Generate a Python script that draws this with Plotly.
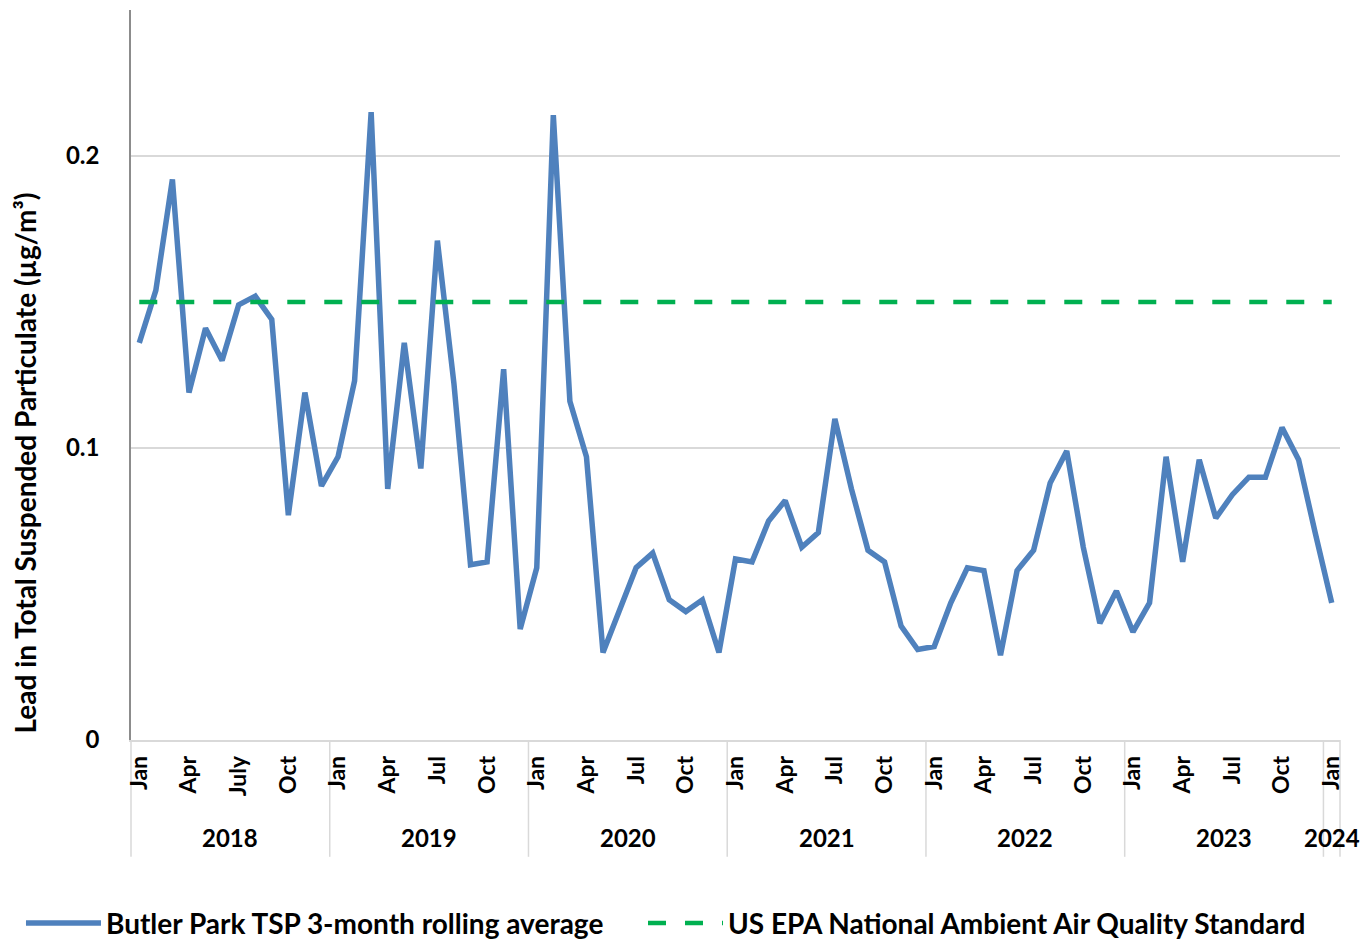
import plotly.graph_objects as go

# ---- data ----
years = [2018, 2019, 2020, 2021, 2022, 2023, 2024]
month_names = ["Jan", "Feb", "Mar", "Apr", "May", "Jun", "Jul", "Aug", "Sep", "Oct", "Nov", "Dec"]

tsp_values = [
    0.136, 0.154, 0.192, 0.119, 0.141, 0.130, 0.149, 0.152, 0.144, 0.077, 0.119, 0.087,  # 2018
    0.097, 0.123, 0.215, 0.086, 0.136, 0.093, 0.171, 0.122, 0.060, 0.061, 0.127, 0.038,  # 2019
    0.059, 0.214, 0.116, 0.097, 0.030, 0.044, 0.059, 0.064, 0.048, 0.044, 0.048, 0.030,  # 2020
    0.062, 0.061, 0.075, 0.082, 0.066, 0.071, 0.110, 0.086, 0.065, 0.061, 0.039, 0.031,  # 2021
    0.032, 0.047, 0.059, 0.058, 0.029, 0.058, 0.065, 0.088, 0.099, 0.066, 0.040, 0.051,  # 2022
    0.037, 0.047, 0.097, 0.061, 0.096, 0.076, 0.084, 0.090, 0.090, 0.107, 0.096, 0.071,  # 2023
    0.047,                                                                               # 2024
]
naaqs_value = 0.15

tick_labels = ["Jan", "Apr", "July", "Oct",
               "Jan", "Apr", "Jul", "Oct",
               "Jan", "Apr", "Jul", "Oct",
               "Jan", "Apr", "Jul", "Oct",
               "Jan", "Apr", "Jul", "Oct",
               "Jan", "Apr", "Jul", "Oct",
               "Jan"]

series_names = ["Butler Park TSP 3-month rolling average",
                "US EPA National Ambient Air Quality Standard"]
y_title = "Lead in Total Suspended Particulate (µg/m³)"

# ---- derived categories ----
categories = []
cat_year = []
for y in years:
    for m in month_names:
        if len(categories) < len(tsp_values):
            categories.append(f"{m} {y}")
            cat_year.append(y)

tick_vals = [c for c in categories if c.split()[0] in ("Jan", "Apr", "Jul", "Oct")]

FONT = "Lato"
BLUE = "#4F81BD"
GREEN = "#00B050"
GRID = "#D9D9D9"

fig = go.Figure()
fig.add_trace(go.Scatter(
    x=categories, y=tsp_values, mode="lines", name=series_names[0],
    line=dict(color=BLUE, width=5.5), legend="legend",
))
fig.add_trace(go.Scatter(
    x=categories, y=[naaqs_value] * len(categories), mode="lines", name=series_names[1],
    line=dict(color=GREEN, width=4.5, dash="18px,19px"), legend="legend2",
))

n = len(categories)
# year group dividers (paper coords computed from category indices)
boundaries = [-0.5]
for i in range(1, n):
    if cat_year[i] != cat_year[i - 1]:
        boundaries.append(i - 0.5)
boundaries.append(n - 0.5)
shapes = []
for b in boundaries:
    xp = (b + 0.5) / n
    shapes.append(dict(type="line", xref="paper", yref="paper", x0=xp, x1=xp,
                       y0=0, y1=-0.160, line=dict(color=GRID, width=1.5), layer="below"))

annotations = []
for y in years:
    idx = [i for i, yy in enumerate(cat_year) if yy == y]
    annotations.append(dict(
        x=(idx[0] + idx[-1]) / 2, y=-0.134, xref="x", yref="paper",
        text=str(y), showarrow=False, yanchor="middle", xanchor="center",
        font=dict(family=FONT, size=24, color="#000000", weight="bold"),
    ))
annotations.append(dict(
    x=-0.0875, y=0.379, xref="paper", yref="paper", text=y_title, textangle=-90,
    showarrow=False, xanchor="center", yanchor="middle",
    font=dict(family=FONT, size=28, color="#000000", weight="bold"),
))

legend_font = dict(family=FONT, size=28, color="#000000", weight="bold")
fig.update_layout(
    width=1362, height=936,
    margin=dict(l=123, r=30, t=2, b=204, autoexpand=False),
    paper_bgcolor="white", plot_bgcolor="white",
    font=dict(family=FONT, color="#000000"),
    showlegend=True,
    legend=dict(
        orientation="h", x=-0.091, xanchor="left", y=-0.251, yanchor="middle",
        font=legend_font, itemwidth=75, bgcolor="rgba(0,0,0,0)",
    ),
    legend2=dict(
        orientation="h", x=0.4235, xanchor="left", y=-0.251, yanchor="middle",
        font=legend_font, itemwidth=75, bgcolor="rgba(0,0,0,0)",
    ),
    shapes=shapes,
    annotations=annotations,
)
fig.update_xaxes(
    type="category", range=[-0.5, n - 0.5],
    tickmode="array", tickvals=tick_vals, ticktext=tick_labels,
    tickangle=-90, ticks="", ticklabelstandoff=5,
    tickfont=dict(family=FONT, size=23, color="#000000", weight="bold"),
    showline=True, linecolor=GRID, linewidth=1.5,
    showgrid=False, zeroline=False,
)
fig.update_yaxes(
    range=[0, 0.25], tickmode="array", tickvals=[0, 0.1, 0.2], ticktext=["0", "0.1", "0.2"],
    ticks="", ticklabelstandoff=25,
    tickfont=dict(family=FONT, size=24, color="#000000", weight="bold"),
    showline=True, linecolor="#8C8C8C", linewidth=1.5,
    showgrid=True, gridcolor=GRID, gridwidth=1.5, zeroline=False,
)

fig.write_html("out.html")
